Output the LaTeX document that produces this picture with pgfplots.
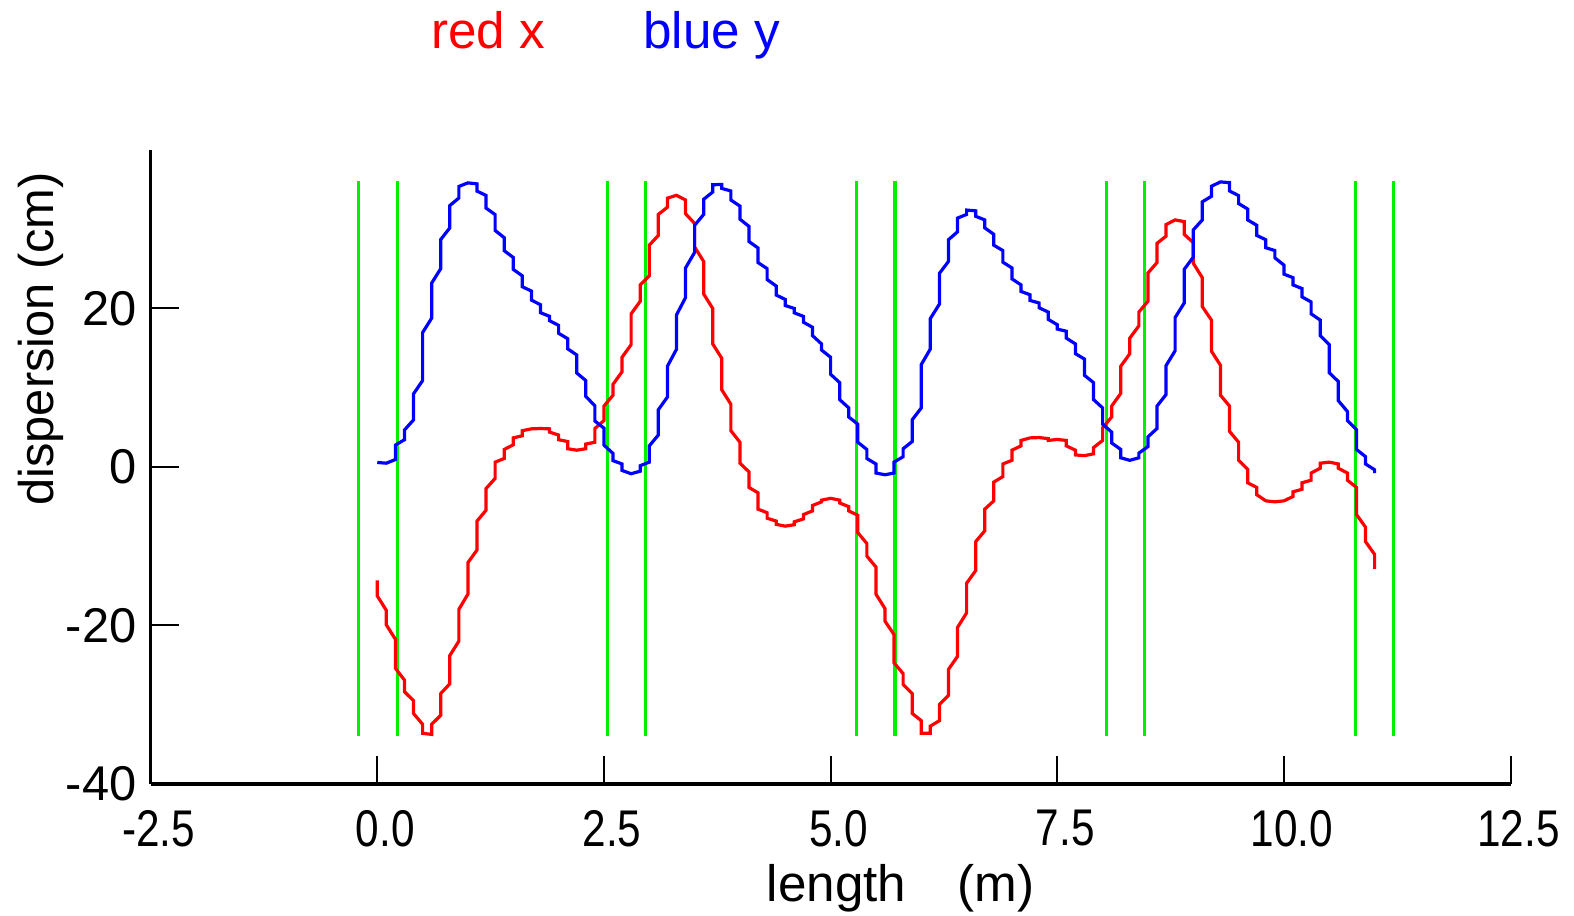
\documentclass[border=0pt]{standalone}
\usepackage{fontspec}
\setmainfont{Liberation Sans}
\usepackage{graphicx}
\usepackage{pgfplots}
\usepackage{pgfplotstable}
\pgfplotsset{compat=1.18}
\definecolor{cred}{RGB}{255,0,0}
\definecolor{cblue}{RGB}{0,0,255}
\definecolor{cgreen}{RGB}{0,240,0}
\newcommand\nx[1]{\scalebox{0.82}[1]{#1}}
\pgfplotstableread{
x y
0.00 0.55
0.10 0.46
0.20 0.92
0.20 2.74
0.30 3.42
0.30 4.65
0.40 5.92
0.40 9.20
0.50 10.88
0.50 16.93
0.60 18.75
0.60 23.17
0.70 24.99
0.70 28.67
0.80 30.13
0.80 32.95
0.90 33.90
0.90 35.36
1.00 35.81
1.10 35.68
1.10 34.77
1.20 34.22
1.20 32.63
1.30 31.81
1.30 29.81
1.40 28.90
1.40 27.26
1.50 26.40
1.50 24.90
1.60 24.08
1.60 22.71
1.70 22.17
1.70 21.03
1.80 20.44
1.80 19.44
1.90 18.98
1.90 18.43
2.00 17.84
2.00 16.84
2.10 16.16
2.10 14.88
2.20 14.11
2.20 11.84
2.30 10.88
2.30 8.88
2.40 7.70
2.40 5.78
2.50 4.88
2.50 2.74
2.60 1.69
2.60 0.78
2.70 0.36
2.70 -0.46
2.80 -0.87
2.90 -0.55
2.90 0.14
3.00 0.59
3.00 2.64
3.10 4.01
3.10 7.20
3.20 8.80
3.20 12.68
3.30 14.82
3.30 19.15
3.40 21.34
3.40 25.08
3.50 27.04
3.50 30.46
3.60 31.83
3.60 33.74
3.70 34.66
3.70 35.57
3.80 35.61
3.80 35.11
3.90 34.79
3.90 33.65
4.00 32.88
4.00 31.23
4.10 30.32
4.10 28.41
4.20 27.59
4.20 25.76
4.30 24.99
4.30 23.62
4.40 22.80
4.40 21.66
4.50 21.11
4.50 20.34
4.60 19.97
4.60 19.42
4.70 18.97
4.70 18.24
4.80 17.60
4.80 16.55
4.90 15.50
4.90 14.73
5.00 13.82
5.00 11.67
5.10 10.62
5.10 8.48
5.20 7.43
5.20 6.29
5.30 5.38
5.30 3.10
5.40 2.19
5.40 1.05
5.50 0.36
5.50 -0.78
5.60 -1.00
5.70 -0.78
5.70 0.59
5.80 1.28
5.80 2.28
5.90 3.19
5.90 5.93
6.00 7.43
6.00 12.90
6.10 14.86
6.10 18.70
6.20 20.52
6.20 24.40
6.30 25.90
6.30 28.64
6.40 29.64
6.40 31.37
6.50 31.83
6.50 32.38
6.60 32.28
6.60 31.60
6.70 31.14
6.70 30.14
6.80 29.32
6.80 27.95
6.90 27.27
6.90 25.81
7.00 25.08
7.00 23.71
7.10 22.94
7.10 22.12
7.20 21.70
7.20 20.98
7.30 20.66
7.30 20.06
7.40 19.52
7.40 18.60
7.50 17.92
7.50 17.37
7.60 17.10
7.60 16.23
7.70 15.50
7.70 14.27
7.80 13.59
7.80 11.54
7.90 10.62
7.90 8.48
8.00 7.43
8.00 5.38
8.10 4.38
8.10 3.01
8.20 2.19
8.20 1.14
8.30 0.82
8.40 1.14
8.40 1.73
8.50 2.55
8.50 3.78
8.60 4.83
8.60 7.66
8.70 9.12
8.70 12.77
8.80 14.64
8.80 18.83
8.90 20.66
8.90 24.90
9.00 26.45
9.00 29.87
9.10 31.14
9.10 33.42
9.20 34.11
9.20 35.38
9.30 35.93
9.40 35.84
9.40 34.79
9.50 34.20
9.50 33.20
9.60 32.51
9.60 31.14
9.70 30.46
9.70 29.18
9.80 28.64
9.80 27.63
9.90 27.27
9.90 26.36
10.00 25.44
10.00 24.30
10.10 23.85
10.10 22.94
10.20 22.48
10.20 21.43
10.30 20.79
10.30 19.29
10.40 18.51
10.40 16.55
10.50 15.41
10.50 11.86
10.60 10.76
10.60 8.34
10.70 6.98
10.70 5.84
10.80 4.70
10.80 2.19
10.90 1.28
10.90 0.36
11.00 -0.37
11.00 -0.78
}\bluetab
\pgfplotstableread{
x y
0.00 -14.32
0.00 -16.28
0.10 -18.10
0.10 -19.93
0.20 -21.75
0.20 -25.40
0.30 -26.90
0.30 -28.36
0.40 -29.50
0.40 -31.10
0.50 -32.47
0.50 -33.61
0.60 -33.74
0.60 -32.47
0.70 -31.33
0.70 -28.59
0.80 -27.36
0.80 -23.80
0.90 -21.98
0.90 -17.97
1.00 -16.05
1.00 -12.08
1.10 -10.49
1.10 -6.84
1.20 -5.47
1.20 -2.74
1.30 -1.46
1.30 0.59
1.40 1.05
1.40 2.19
1.50 2.78
1.50 3.65
1.60 3.92
1.60 4.56
1.70 4.79
1.80 4.83
1.90 4.79
1.90 4.38
2.00 4.01
2.00 3.42
2.10 3.19
2.10 2.28
2.20 2.10
2.30 2.28
2.30 2.87
2.40 3.10
2.40 4.83
2.50 5.84
2.50 7.66
2.60 9.03
2.60 10.40
2.70 11.99
2.70 13.82
2.80 15.41
2.80 19.29
2.90 20.88
2.90 22.94
3.00 24.08
3.00 27.95
3.10 29.18
3.10 31.83
3.20 32.74
3.20 33.88
3.30 34.24
3.40 33.65
3.40 31.92
3.50 30.69
3.50 27.72
3.60 25.90
3.60 21.80
3.70 19.97
3.70 15.50
3.80 13.68
3.80 9.71
3.90 7.89
3.90 4.56
4.00 3.10
4.00 0.46
4.10 -0.64
4.10 -2.60
4.20 -3.28
4.20 -5.34
4.30 -5.79
4.30 -6.48
4.40 -6.84
4.40 -7.25
4.50 -7.48
4.60 -7.30
4.60 -6.93
4.70 -6.57
4.70 -6.02
4.80 -5.56
4.80 -4.88
4.90 -4.42
4.90 -4.20
5.00 -3.97
5.10 -4.20
5.10 -4.56
5.20 -5.02
5.20 -5.56
5.30 -6.11
5.30 -8.30
5.40 -9.67
5.40 -11.26
5.50 -12.63
5.50 -16.05
5.60 -17.88
5.60 -19.47
5.70 -21.16
5.70 -24.72
5.80 -26.08
5.80 -27.45
5.90 -28.59
5.90 -31.10
6.00 -32.01
6.00 -33.61
6.10 -33.61
6.10 -32.70
6.20 -32.01
6.20 -29.96
6.30 -28.82
6.30 -25.54
6.40 -23.90
6.40 -20.25
6.50 -18.42
6.50 -14.68
6.60 -13.09
6.60 -9.44
6.70 -8.07
6.70 -5.34
6.80 -4.29
6.80 -1.92
6.90 -1.23
6.90 0.36
7.00 0.82
7.00 2.10
7.10 2.64
7.10 3.33
7.20 3.65
7.30 3.69
7.40 3.56
7.40 3.33
7.50 3.45
7.60 3.33
7.60 2.64
7.70 2.10
7.70 1.50
7.80 1.41
7.90 1.64
7.90 2.42
8.00 3.33
8.00 4.92
8.10 6.29
8.10 7.66
8.20 9.26
8.20 12.68
8.30 14.27
8.30 16.23
8.40 17.78
8.40 19.52
8.50 20.88
8.50 24.44
8.60 25.76
8.60 28.18
8.70 29.09
8.70 30.55
8.80 31.14
8.90 30.92
8.90 29.32
9.00 28.27
9.00 25.67
9.10 23.85
9.10 20.20
9.20 18.51
9.20 14.59
9.30 12.81
9.30 9.03
9.40 7.66
9.40 4.47
9.50 3.10
9.50 0.82
9.60 -0.32
9.60 -2.01
9.70 -2.60
9.70 -3.51
9.80 -4.29
9.90 -4.42
10.00 -4.29
10.10 -3.74
10.10 -3.15
10.20 -2.83
10.20 -2.01
10.30 -1.69
10.30 -0.78
10.40 -0.18
10.40 0.46
10.50 0.59
10.60 0.36
10.60 -0.18
10.70 -0.78
10.70 -1.69
10.80 -2.60
10.80 -6.02
10.90 -7.62
10.90 -9.44
11.00 -11.04
11.00 -12.86
}\redtab
\begin{document}
\begin{tikzpicture}
\path[use as bounding box] (-37.65pt,-32.75pt) rectangle (355.85pt,196pt);
\begin{axis}[
  at={(0pt,0pt)}, anchor=south west,
  scale only axis, width=340pt, height=158.6pt,
  xmin=-2.5, xmax=12.5, ymin=-40, ymax=40,
  axis x line*=bottom, axis y line*=left,
  x axis line style={line width=1pt,-},
  y axis line style={line width=0.6pt,-},
  xtick={-2.5,0,2.5,5,7.5,10,12.5},
  xticklabels={\nx{-2.5},\nx{0.0},\nx{2.5},\nx{5.0},\nx{7.5},\nx{10.0},\nx{12.5}},
  ytick={-40,-20,0,20},
  yticklabels={-40,-20,0,20},
  tick align=inside, major tick length=7pt,
  tick style={black, line width=0.5pt},
  xticklabel style={font=\fontsize{12.9}{15}\selectfont, yshift=-3pt, xshift=2pt},
  yticklabel style={font=\fontsize{12.2}{14}\selectfont},
  clip=false,
]
\addplot[cgreen, line width=0.8pt] coordinates {(-0.21,-33.9) (-0.21,36.1)};
\addplot[cgreen, line width=0.8pt] coordinates {(0.22,-33.9) (0.22,36.1)};
\addplot[cgreen, line width=0.8pt] coordinates {(2.54,-33.9) (2.54,36.1)};
\addplot[cgreen, line width=0.8pt] coordinates {(2.96,-33.9) (2.96,36.1)};
\addplot[cgreen, line width=0.8pt] coordinates {(5.29,-33.9) (5.29,36.1)};
\addplot[cgreen, line width=0.8pt] coordinates {(5.71,-33.9) (5.71,36.1)};
\addplot[cgreen, line width=0.8pt] coordinates {(8.04,-33.9) (8.04,36.1)};
\addplot[cgreen, line width=0.8pt] coordinates {(8.46,-33.9) (8.46,36.1)};
\addplot[cgreen, line width=0.8pt] coordinates {(10.79,-33.9) (10.79,36.1)};
\addplot[cgreen, line width=0.8pt] coordinates {(11.21,-33.9) (11.21,36.1)};
\addplot[cred, line width=0.8pt] table[x=x, y=y] {\redtab};
\addplot[cblue, line width=0.8pt] table[x=x, y=y] {\bluetab};
\end{axis}
\node[font=\fontsize{12.2}{14}\selectfont, rotate=90] at (-27.5pt,111.3pt) {dispersion (cm)};
\node[font=\fontsize{12.8}{15}\selectfont, anchor=base] at (187.5pt,-29.25pt) {length\hspace{12.75pt}(m)};
\node[font=\fontsize{12.8}{15}\selectfont, text=cred, anchor=base] at (84.35pt,183.9pt) {red x};
\node[font=\fontsize{12.8}{15}\selectfont, text=cblue, anchor=base] at (140.3pt,183.9pt) {blue y};
\end{tikzpicture}
\end{document}
